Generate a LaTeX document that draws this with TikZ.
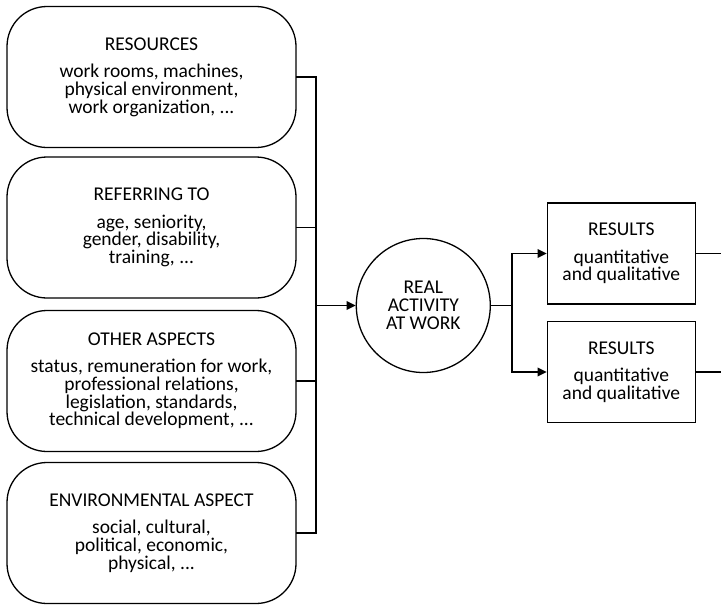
\documentclass[tikz,border=0pt]{standalone}
\usepackage{fontspec}
\setmainfont{Carlito}
\usetikzlibrary{arrows.meta}
\newcommand\tightlines{\lineskiplimit=-30pt\relax}
\begin{document}
\begin{tikzpicture}[x=1pt,y=-1pt,
  txt/.style={font=\fontsize{19.5}{17.7}\selectfont\tightlines},
  factor/.style={txt, draw, line width=1.3pt, rounded corners=40pt,
    minimum width=289pt, minimum height=141pt, align=center, inner sep=0pt},
  hub/.style={font=\fontsize{19.5}{18.3}\selectfont\tightlines,
    draw, circle, line width=1.3pt, minimum size=134pt, align=center, inner sep=0pt},
  outbox/.style={txt, draw, line width=1.3pt, minimum width=148pt,
    minimum height=101pt, align=center, inner sep=0pt},
  link/.style={line width=1.8pt, line cap=rect},
  tip/.style={link, -{Triangle[length=9pt,width=8.5pt]}, line cap=butt}
]
\useasboundingbox (0,0) rectangle (721,606);

% influencing factors
\node[factor] (res) at (151.5,77)
  {RESOURCES\\[9.6pt]work rooms, machines,\\physical environment,\\work organization, ...};
\node[factor] (ref) at (151.5,227.5)
  {REFERRING TO\\[9.6pt]age, seniority,\\gender, disability,\\training, ...};
\node[factor] (oth) at (151.5,381)
  {OTHER ASPECTS\\[9.6pt]status, remuneration for work,\\professional relations,\\legislation, standards,\\technical development, ...};
\node[factor] (env) at (151.5,533)
  {ENVIRONMENTAL ASPECT\\[9.6pt]social, cultural,\\political, economic,\\physical, ...};

% central activity
\node[hub] (act) at (423.3,305.5) {REAL\\ACTIVITY\\AT WORK};

% outcomes
\node[outbox] (out1) at (621.3,253.5) {RESULTS\\[9.6pt]quantitative\\and qualitative};
\node[outbox] (out2) at (621.3,372) {RESULTS\\[9.6pt]quantitative\\and qualitative};

% bus collecting the factors
\coordinate (busTop) at (316,77);
\coordinate (busBot) at (316,533);
\coordinate (busMid) at (316,305.5);
\coordinate (split) at (512,305.5);
\coordinate (rim) at (721,0);

\draw[link] (res.east) -- (busTop) -- (busBot) -- (env.east);
\draw[link] (ref.east) -- (ref.east -| busTop);
\draw[link] (oth.east) -- (oth.east -| busTop);
\draw[tip] (busMid) -- (act.west);

% split towards the results
\draw[link] (act.east) -- (split);
\draw[tip] (split) |- (out1.west);
\draw[tip] (split) |- (out2.west);
\draw[link, line cap=butt] (out1.east) -- (out1.east -| rim);
\draw[link, line cap=butt] (out2.east) -- (out2.east -| rim);
\end{tikzpicture}
\end{document}
